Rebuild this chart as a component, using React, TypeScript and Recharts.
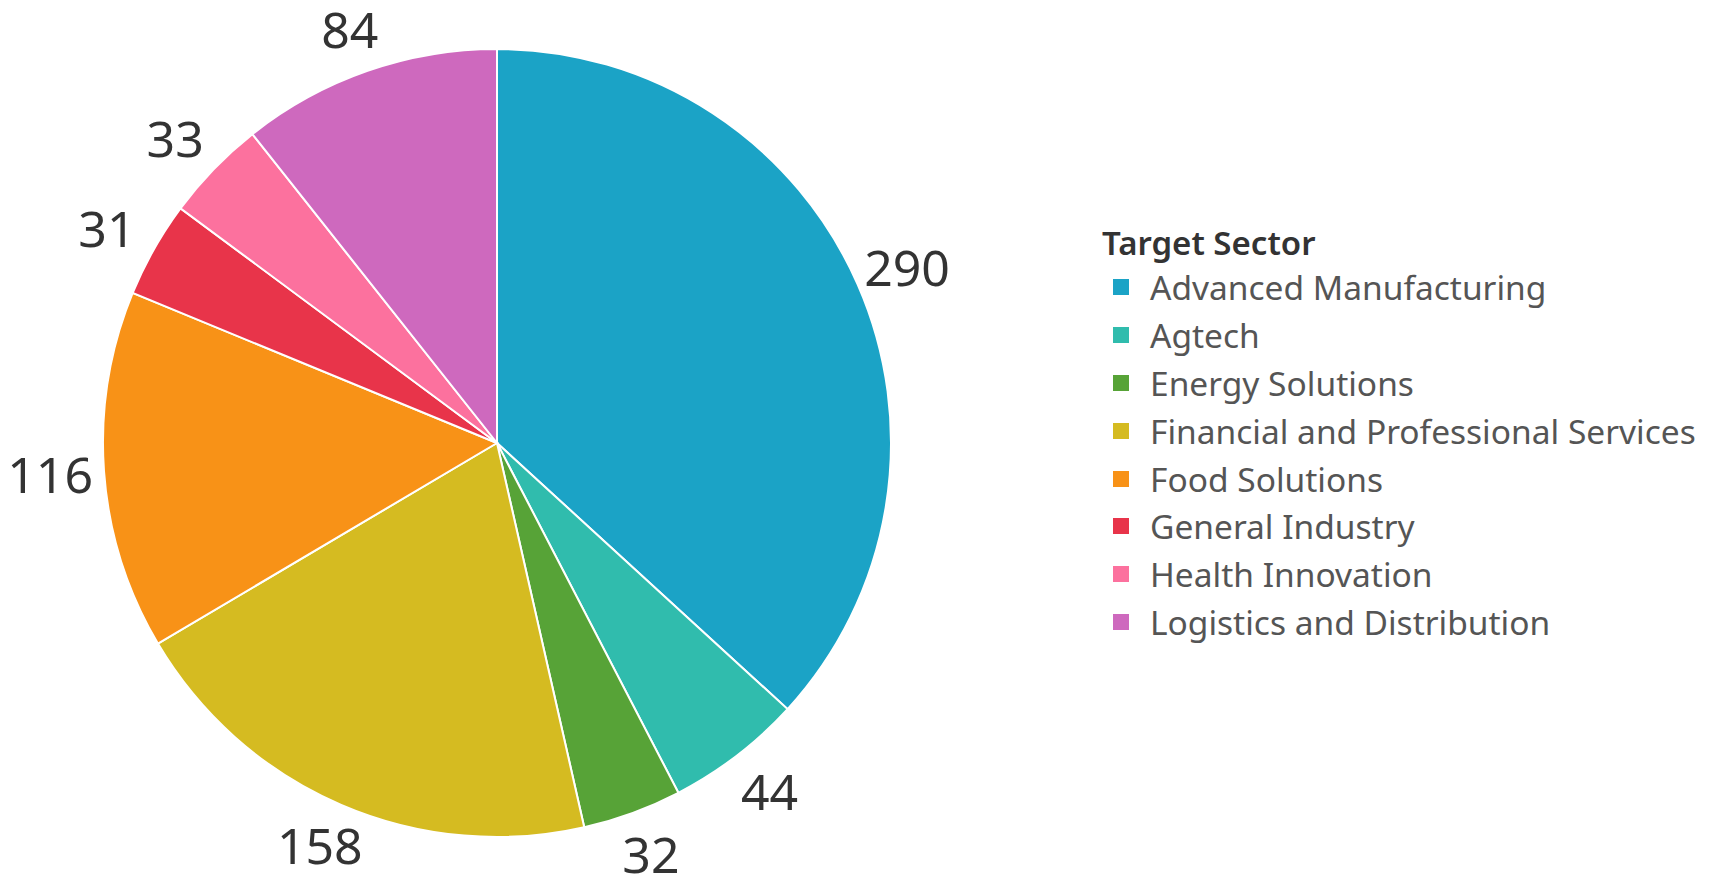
import { Cell, Legend, Pie, PieChart } from "recharts"

document.body.style.margin = "0"

const sectors = [
  "Advanced Manufacturing",
  "Agtech",
  "Energy Solutions",
  "Financial and Professional Services",
  "Food Solutions",
  "General Industry",
  "Health Innovation",
  "Logistics and Distribution",
]
const counts = [290, 44, 32, 158, 116, 31, 33, 84]
const colors = ["#1ba3c6", "#30bcad", "#57a337", "#d5bb21", "#f89217", "#e8344a", "#fc719e", "#ce69be"]

const data = sectors.map((name, i) => ({ name, value: counts[i] }))

const RADIAN = Math.PI / 180
const FONT = "'Noto Sans', sans-serif"

// labels sit just outside the rim; wider numbers need a bit more room sideways
function renderLabel(props: any) {
  const { cx, cy, midAngle, outerRadius, value } = props
  const cos = Math.cos(-midAngle * RADIAN)
  const sin = Math.sin(-midAngle * RADIAN)
  const r = outerRadius + 44
  const x = cx + r * cos + 10 * cos
  const y = cy + r * sin
  return (
    <text x={x} y={y} fill="#333" fontSize={50} fontFamily={FONT} textAnchor="middle" dominantBaseline="central">
      {value}
    </text>
  )
}

function LegendBox() {
  return (
    <div style={{ fontFamily: FONT }}>
      <div style={{ fontSize: 33, fontWeight: 600, color: "#333", lineHeight: "40px" }}>Target Sector</div>
      {sectors.map((s, i) => (
        <div key={s} style={{ display: "flex", alignItems: "center", height: 47.9 }}>
          <span style={{ width: 16, height: 16, background: colors[i], marginLeft: 11, marginRight: 21 }} />
          <span style={{ fontSize: 33.5, color: "#555", whiteSpace: "nowrap" }}>{s}</span>
        </div>
      ))}
    </div>
  )
}

export default function App() {
  return (
    <PieChart width={1714} height={874} margin={{ top: 0, right: 0, bottom: 0, left: 0 }}>
      <Pie
        data={data}
        dataKey="value"
        nameKey="name"
        cx={497}
        cy={443}
        outerRadius={394}
        startAngle={90}
        endAngle={-270}
        stroke="#fff"
        strokeWidth={2}
        label={renderLabel}
        labelLine={false}
        isAnimationActive={false}
      >
        {data.map((d, i) => (
          <Cell key={d.name} fill={colors[i]} />
        ))}
      </Pie>
      <Legend
        content={() => <LegendBox />}
        wrapperStyle={{ position: "absolute", left: 1102, top: 223, width: 612, bottom: "auto" }}
      />
    </PieChart>
  )
}
